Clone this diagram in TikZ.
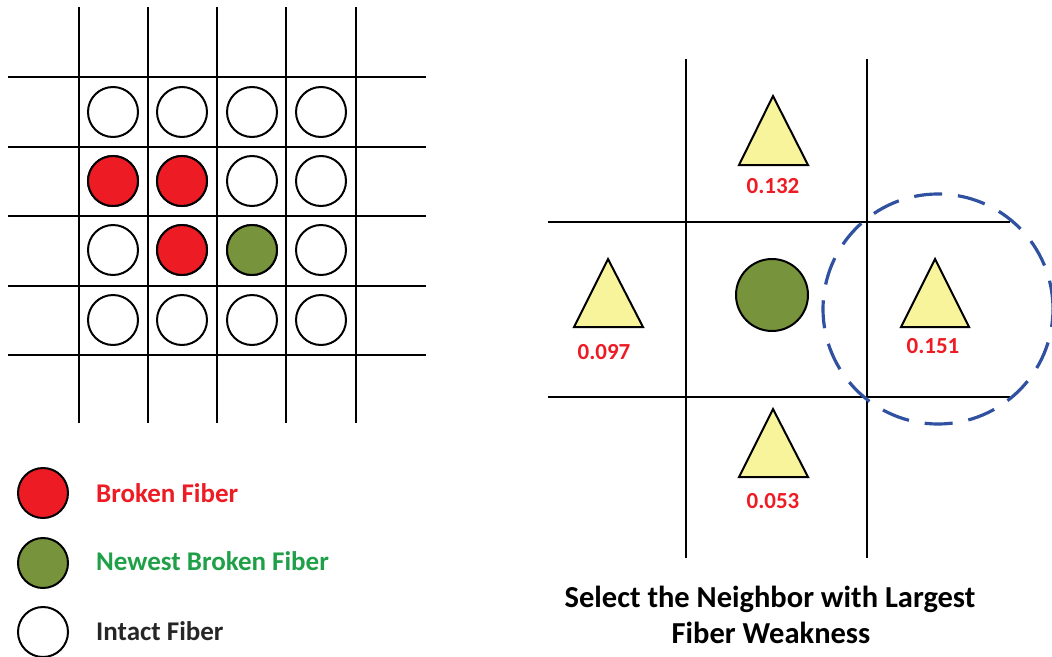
\documentclass[tikz,border=0pt]{standalone}
\usepackage{fontspec}
\setmainfont{Carlito}
\definecolor{brk}{HTML}{ED1C24}
\definecolor{newg}{HTML}{77933C}
\definecolor{newtxt}{HTML}{1FA048}
\definecolor{tri}{HTML}{F8F49C}
\definecolor{sel}{HTML}{3050A0}
\tikzset{
  gline/.style={line width=2.3pt, black},
  fib/.style={circle, draw=black, line width=2pt, minimum size=50pt, inner sep=0pt},
  intact/.style={fib, fill=white},
  broken/.style={fib, fill=brk},
  newest/.style={fib, fill=newg},
  trishape/.style={draw=black, line width=2pt, fill=tri, line join=miter},
  val/.style={text=brk, font=\bfseries\fontsize{23}{27}\selectfont, anchor=base, inner sep=0pt},
  legtxt/.style={font=\bfseries\fontsize{27}{31}\selectfont, anchor=base west, inner sep=0pt},
  title/.style={font=\bfseries\fontsize{30.5}{36}\selectfont, anchor=base, inner sep=0pt}
}
\begin{document}
\begin{tikzpicture}[x=1pt,y=-1pt]
\useasboundingbox (0,0) rectangle (1052,656);
% left grid
\foreach \x in {79,148,217,286,356} \draw[gline] (\x,7) -- (\x,423);
\foreach \y in {77,147,216,286,355} \draw[gline] (8,\y) -- (426,\y);
% fibers
\foreach \c/\x in {1/113,2/182,3/252,4/321}{
  \foreach \r/\y in {1/112,2/181,3/250,4/320}{
    \node[intact] (f\r\c) at (\x,\y) {};
  }
}
\node[broken] (b21) at (113,181) {};
\node[broken] (b22) at (182,181) {};
\node[broken] (b32) at (182,250) {};
\node[newest] (n33) at (252,250) {};
% legend
\node[broken] (lb) at (43,493) {};
\node[newest] (ln) at (43,563) {};
\node[intact] (li) at (43,632) {};
\node[legtxt, text=brk] (tb) at (96,502) {Broken Fiber};
\node[legtxt, text=newtxt] (tn) at (96,570) {Newest Broken Fiber};
\node[legtxt, text=black!85] (ti) at (96,640) {Intact Fiber};
% right grid
\draw[gline] (686,59) -- (686,558);
\draw[gline] (867,59) -- (867,558);
\draw[gline] (548,222) -- (1010,222);
\draw[gline] (548,397) -- (1010,397);
% center fiber
\node[fib, fill=newg, minimum size=72pt] (c) at (772,295) {};
% triangles
\draw[trishape] (773,96) -- (808,165) -- (739,165) -- cycle;
\draw[trishape] (608,259) -- (643,327) -- (574,327) -- cycle;
\draw[trishape] (935,259) -- (969,327) -- (901,327) -- cycle;
\draw[trishape] (773,409) -- (808,477) -- (739,477) -- cycle;
\node[val] (vt) at (773,193) {0.132};
\node[val] (vl) at (604,359) {0.097};
\node[val] (vr) at (933,353) {0.151};
\node[val] (vb) at (773,508) {0.053};
% selection circle
\draw[sel, line width=3.2pt, dash pattern=on 28pt off 16pt, dash phase=10pt] (938,309) circle (115);
% title
\node[title] (t1) at (770,607) {Select the Neighbor with Largest};
\node[title] (t2) at (771,643) {Fiber Weakness};
\end{tikzpicture}
\end{document}
